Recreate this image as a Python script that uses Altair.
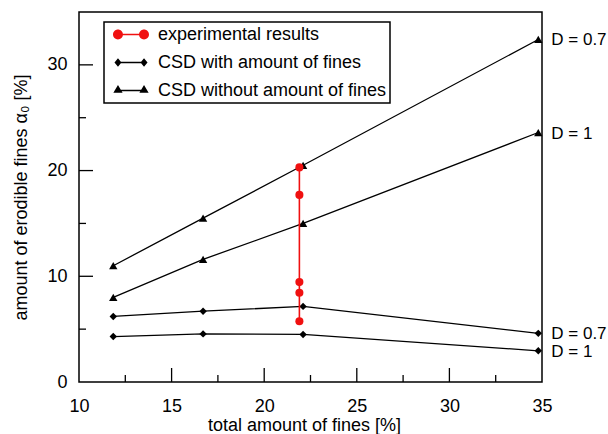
import altair as alt
import pandas as pd

# ---- data ----
x_csd = [11.85, 16.7, 22.1, 34.8]
without_d07 = [11.0, 15.5, 20.5, 32.4]
without_d1 = [8.0, 11.6, 15.0, 23.6]
with_d07 = [6.2, 6.7, 7.15, 4.6]
with_d1 = [4.3, 4.55, 4.5, 2.95]
exp_x = [21.9, 21.9, 21.9, 21.9, 21.9]
exp_y = [20.3, 17.7, 9.45, 8.45, 5.75]

legend_labels = ["experimental results", "CSD with amount of fines", "CSD without amount of fines"]
end_labels = ["D = 0.7", "D = 1", "D = 0.7", "D = 1"]
end_values = [without_d07[-1], without_d1[-1], with_d07[-1], with_d1[-1]]

x_major = [10, 15, 20, 25, 30, 35]
x_minor = [12.5, 17.5, 22.5, 27.5, 32.5]
y_major = [0, 10, 20, 30]
y_minor = [5, 15, 25]

FONT = "Liberation Sans"
RED = "#f01010"
W, H = 463, 370

# ---- tables ----
rows = []
for name, kind, ys in [("without_d07", "without", without_d07), ("without_d1", "without", without_d1),
                       ("with_d07", "with", with_d07), ("with_d1", "with", with_d1)]:
    for xv, yv in zip(x_csd, ys):
        rows.append({"series": name, "kind": kind, "x": xv, "y": yv})
csd = pd.DataFrame(rows)
exp = pd.DataFrame({"x": exp_x, "y": exp_y})
ends = pd.DataFrame({"x": [x_csd[-1]] * 4, "y": end_values, "label": end_labels})
legend_df = pd.DataFrame({"series": legend_labels, "x": [x_csd[0]] * 3, "y": [0.0] * 3})
xmaj = pd.DataFrame({"x": x_major[1:-1]})
xmin = pd.DataFrame({"x": x_minor})
ymaj = pd.DataFrame({"y": y_major[1:]})
ymin = pd.DataFrame({"y": y_minor})

# ---- scales / axes ----
x_axis = alt.Axis(values=x_major, ticks=False, tickSize=0, domain=False, grid=False,
                  labelPadding=15, labelFontSize=18, labelFont=FONT, labelColor="black",
                  labelFlush=False,
                  titleFontSize=18, titleFont=FONT, titleColor="black", titleFontWeight="normal",
                  titlePadding=1, titleX=225, format="d")
y_axis = alt.Axis(values=y_major, ticks=False, tickSize=0, domain=False, grid=False,
                  labelPadding=12, labelFontSize=18, labelFont=FONT, labelColor="black",
                  labelFlush=False,
                  titleFontSize=18, titleFont=FONT, titleColor="black", titleFontWeight="normal",
                  titlePadding=16, format="d")
xs = alt.Scale(domain=[10, 35], nice=False, zero=False)
ys_ = alt.Scale(domain=[0, 35], nice=False)
X = alt.X("x:Q", scale=xs, axis=x_axis, title="total amount of fines [%]")
Y = alt.Y("y:Q", scale=ys_, axis=y_axis, title="amount of erodible fines α₀ [%]")

# ---- legend symbol paths (line with a marker at each end) ----
c, t = 1.86, 0.1
bar = f"M{-c},{-t} L{c},{-t} L{c},{t} L{-c},{t} Z"
def circ(cx, r=0.71):
    return f"M{cx - r},0 A{r},{r} 0 1,1 {cx + r},0 A{r},{r} 0 1,1 {cx - r},0 Z"
def diam(cx, w=0.5, h=0.6):
    return f"M{cx},{-h} L{cx + w},0 L{cx},{h} L{cx - w},0 Z"
def tri(cx, w=0.66):
    return f"M{cx},-0.8 L{cx + w},0.32 L{cx - w},0.32 Z"
paths = [bar + " " + circ(-c) + " " + circ(c),
         bar + " " + diam(-c) + " " + diam(c),
         bar + " " + tri(-c) + " " + tri(c)]

leg = alt.Legend(title=None, orient="none", legendX=25, legendY=10, padding=3.5,
                 symbolSize=196, symbolOffset=14.5, labelOffset=18, rowPadding=10,
                 labelFontSize=18, labelFont=FONT, labelColor="black", labelLimit=400,
                 symbolStrokeWidth=0, symbolOpacity=1,
                 strokeColor="black", fillColor="white", cornerRadius=0)

legend_layer = alt.Chart(legend_df).transform_filter("false").mark_point(
    filled=True, size=196, opacity=1, strokeWidth=0).encode(
    x=X, y=Y,
    shape=alt.Shape("series:N", scale=alt.Scale(domain=legend_labels, range=paths), legend=leg),
    fill=alt.Fill("series:N", scale=alt.Scale(domain=legend_labels, range=[RED, "black", "black"]), legend=leg),
)

lines = alt.Chart(csd).mark_line(color="black", strokeWidth=1.3).encode(x=X, y=Y, detail="series:N")
diamonds = alt.Chart(csd).transform_filter(alt.datum.kind == "with").mark_point(
    shape="diamond", filled=True, color="black", size=55, opacity=1).encode(x=X, y=Y)
triangles = alt.Chart(csd).transform_filter(alt.datum.kind == "without").mark_point(
    shape="triangle-up", filled=True, color="black", size=70, opacity=1).encode(x=X, y=Y)
exp_line = alt.Chart(exp).mark_line(color=RED, strokeWidth=1.6).encode(x=X, y=Y, order="y:Q")
exp_pts = alt.Chart(exp).mark_point(shape="circle", filled=True, color=RED, size=65, opacity=1).encode(x=X, y=Y)

texts = alt.Chart(ends).mark_text(align="left", baseline="middle", dx=13, dy=1,
                                  fontSize=17, font=FONT, color="black").encode(x=X, y=Y, text="label:N")

xt_major = alt.Chart(xmaj).mark_rule(color="black", strokeWidth=1.3).encode(
    x=X, y=alt.value(H), y2=alt.value(H - 14))
xt_minor = alt.Chart(xmin).mark_rule(color="black", strokeWidth=1.3).encode(
    x=X, y=alt.value(H), y2=alt.value(H - 7))
yt_major = alt.Chart(ymaj).mark_rule(color="black", strokeWidth=1.3).encode(
    y=Y, x=alt.value(0), x2=alt.value(14))
yt_minor = alt.Chart(ymin).mark_rule(color="black", strokeWidth=1.3).encode(
    y=Y, x=alt.value(0), x2=alt.value(7))

chart = alt.layer(
    xt_major, xt_minor, yt_major, yt_minor,
    lines, diamonds, triangles, exp_line, exp_pts, texts, legend_layer
).properties(
    width=W, height=H,
    padding={"left": 79, "top": 12, "right": 66, "bottom": 52},
    autosize=alt.AutoSizeParams(type="none"),
    background="white",
).configure_view(
    stroke="black", strokeWidth=1.5
).configure_legend(
    strokeWidth=1.5
)

chart.save("out.html", embed_options={"renderer": "svg", "actions": False})
